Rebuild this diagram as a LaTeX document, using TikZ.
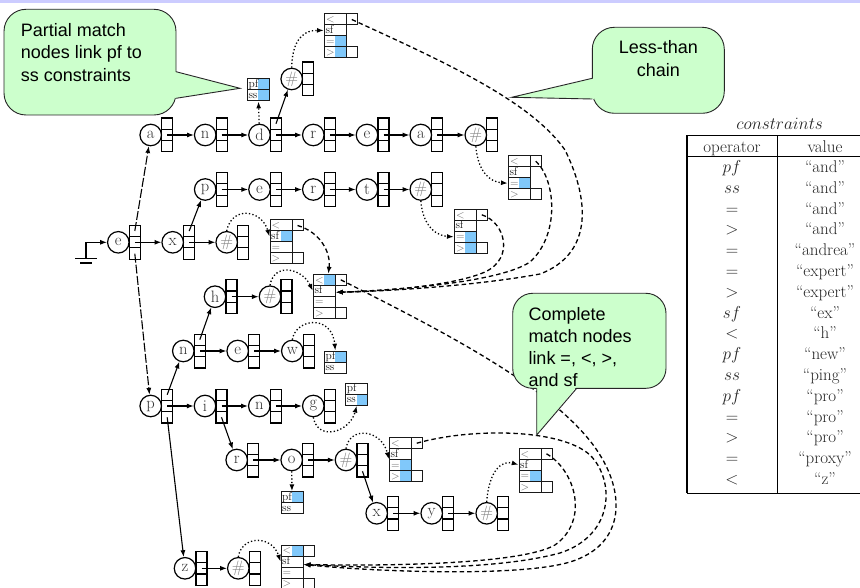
\documentclass[tikz,border=0pt]{standalone}
\usepackage{fontspec}
\newfontfamily\callfont{Liberation Sans}
\usetikzlibrary{arrows.meta}
\definecolor{calloutgreen}{RGB}{204,255,204}
\definecolor{markblue}{RGB}{128,200,250}
\definecolor{topband}{RGB}{204,204,255}

\tikzset{
  tcirc/.style={circle, draw=black, line width=1.2pt, minimum size=21.5pt, inner sep=0pt,
    font=\fontsize{16.5}{16.5}\selectfont, text=black!80},
  tcell/.style={draw=black, line width=1.1pt, minimum width=11pt, minimum height=11.3pt, inner sep=0pt},
  cellbox/.style={draw=black!90, line width=1pt, minimum width=22pt, minimum height=11pt, inner sep=0pt},
  ptrcell/.style={cellbox, minimum width=11pt},
  sym/.style={anchor=base west, inner sep=0pt, font=\fontsize{10.5}{10.5}\selectfont, text=black!60},
  word/.style={anchor=base west, inner sep=0pt, font=\fontsize{11.5}{11.5}\selectfont, text=black!90},
  trieedge/.style={line width=1.1pt, -{Latex[length=6.8pt,width=5pt]}},
  longedge/.style={trieedge, dash pattern=on 9pt off 2.2pt},
  matchlink/.style={line width=1.3pt, dash pattern=on 1.3pt off 2.2pt, -{Latex[length=6.8pt,width=5pt]}},
  chainlink/.style={line width=1.3pt, dash pattern=on 4.5pt off 3pt, -{Latex[length=7pt,width=5pt]}},
  callout/.style={fill=calloutgreen, draw=black!85, line width=0.9pt},
  calloutline/.style={draw=black!85, line width=0.9pt},
  calltext/.style={anchor=base west, inner sep=0pt, font=\callfont\fontsize{18}{22}\selectfont},
  tabtext/.style={anchor=base, inner sep=0pt, font=\fontsize{17}{20}\selectfont, text=black!85},
}

% trie node: circle with its letter and a column of three cells
\newcommand\trienode[4]{%
  \node[tcirc] (#1) at (#2,#3) {#4};
  \node[tcell] (#1-t) at (#2+16.5,#3-11.3) {};
  \node[tcell] (#1-m) at (#2+16.5,#3) {};
  \node[tcell] (#1-b) at (#2+16.5,#3+11.3) {};
}
% constraint record: rows <, sf, =, > ; flags mark the rows in use
\newcommand\conbox[7]{%
  \foreach \row/\flag in {0/#4,1/#5,2/#6,3/#7}{%
    \ifnum\flag=1 \fill[markblue] (#2+11,#3+11*\row) rectangle ++(11,11);\fi}
  \node[cellbox] (#1-lt) at (#2+11,#3+5.5) {};
  \node[cellbox] (#1-sf) at (#2+11,#3+16.5) {};
  \node[cellbox] (#1-eq) at (#2+11,#3+27.5) {};
  \node[cellbox] (#1-gt) at (#2+11,#3+38.5) {};
  \node[ptrcell] (#1-p) at (#2+27.5,#3+5.5) {};
  \node[ptrcell] (#1-q) at (#2+27.5,#3+38.5) {};
  \node[sym] (#1-ltx) at (#2+1.5,#3+8.8) {$<$};
  \node[word] (#1-sfx) at (#2+1,#3+19.7) {sf};
  \node[sym] (#1-eqx) at (#2+1.5,#3+30.5) {$=$};
  \node[sym] (#1-gtx) at (#2+1.5,#3+41.8) {$>$};
}
% prefix / substring record
\newcommand\pfbox[5]{%
  \ifnum#4=1 \fill[markblue] (#2+11,#3) rectangle ++(11,11);\fi
  \ifnum#5=1 \fill[markblue] (#2+11,#3+11) rectangle ++(11,11);\fi
  \node[cellbox] (#1-pf) at (#2+11,#3+5.5) {};
  \node[cellbox] (#1-ss) at (#2+11,#3+16.5) {};
  \node[word] (#1-pfx) at (#2+1,#3+8.3) {pf};
  \node[word] (#1-ssx) at (#2+1,#3+19.5) {ss};
}

\begin{document}
\begin{tikzpicture}[x=1pt,y=-1pt]
\useasboundingbox (0,0) rectangle (860,588);
\fill[white] (0,0) rectangle (860,588);
\fill[topband] (0,0) rectangle (860,3);

% ---- trie ----
\trienode{a1}{150.7}{135}{a}
\trienode{n1}{205.2}{135}{n}
\trienode{d1}{259.5}{135}{d}
\trienode{r1}{313.3}{135}{r}
\trienode{e1}{367}{135}{e}
\trienode{a2}{420.8}{135}{a}
\trienode{f1}{475.8}{135}{{\color{black!50}\#}}
\trienode{f0}{291.7}{79}{{\color{black!50}\#}}
\trienode{p2}{205.2}{189.5}{p}
\trienode{e2}{259.5}{189.5}{e}
\trienode{r2}{313.3}{189.5}{r}
\trienode{t2}{367}{189.5}{t}
\trienode{f2}{420.8}{189.5}{{\color{black!50}\#}}
\trienode{e0}{118.3}{242.3}{e}
\trienode{x0}{172.7}{242.3}{x}
\trienode{fx}{226.7}{242.3}{{\color{black!50}\#}}
\trienode{h3}{215}{296.7}{h}
\trienode{fh}{270}{296.7}{{\color{black!50}\#}}
\trienode{n4}{183.3}{351}{n}
\trienode{e4}{237.7}{351}{e}
\trienode{w4}{292.3}{351}{w}
\trienode{p5}{150.7}{406}{p}
\trienode{i5}{205}{406}{i}
\trienode{n5}{259.3}{406}{n}
\trienode{g5}{313.3}{406}{g}
\trienode{r6}{236.7}{460}{r}
\trienode{o6}{291.7}{460}{o}
\trienode{f6}{346}{460}{{\color{black!50}\#}}
\trienode{x7}{376.7}{513.3}{x}
\trienode{y7}{431.7}{513.3}{y}
\trienode{f7}{486.7}{513.3}{{\color{black!50}\#}}
\trienode{z8}{185}{568.3}{z}
\trienode{f8}{238.3}{568.3}{{\color{black!50}\#}}

% ---- constraint records ----
\conbox{K1}{324.3}{14}{0}{0}{1}{1}
\conbox{K2}{508.3}{155.7}{0}{0}{1}{0}
\conbox{K3}{454.3}{209.3}{0}{0}{1}{1}
\conbox{Kx}{270}{220}{0}{1}{0}{0}
\conbox{Kh}{313.3}{274.3}{1}{0}{0}{0}
\conbox{Kr}{389.3}{437.7}{0}{0}{1}{1}
\conbox{Ky}{519}{448.3}{0}{0}{1}{0}
\conbox{Kz}{281}{545}{1}{0}{0}{0}
\pfbox{Pd}{247.3}{79}{1}{1}
\pfbox{Pw}{324.3}{351}{1}{0}
\pfbox{Pg}{345.7}{383.3}{0}{1}
\pfbox{Po}{281}{491.7}{1}{0}

% ---- ground and root ----
\coordinate (gnd) at (86,258.3);
\draw[line width=1pt] (75,258.3) -- (96.7,258.3);
\draw[line width=2pt] (80,263.3) -- (91.7,263.3);
\draw[trieedge] (gnd) |- (e0);

% ---- trie links ----
\draw[longedge] (e0-t.center) -- (a1);
\draw[trieedge] (e0-m.center) -- (x0);
\draw[longedge] (e0-b.center) -- (p5);
\draw[trieedge] (a1-m.center) -- (n1);
\draw[trieedge] (n1-m.center) -- (d1);
\draw[trieedge] (d1-m.center) -- (r1);
\draw[trieedge] (r1-m.center) -- (e1);
\draw[trieedge] (e1-m.center) -- (a2);
\draw[trieedge] (a2-m.center) -- (f1);
\draw[trieedge] (d1-t.center) -- (f0);
\draw[trieedge] (x0-t.center) -- (p2);
\draw[trieedge] (x0-m.center) -- (fx);
\draw[trieedge] (p2-m.center) -- (e2);
\draw[trieedge] (e2-m.center) -- (r2);
\draw[trieedge] (r2-m.center) -- (t2);
\draw[trieedge] (t2-m.center) -- (f2);
\draw[trieedge] (h3-m.center) -- (fh);
\draw[trieedge] (n4-t.center) -- (h3);
\draw[trieedge] (n4-m.center) -- (e4);
\draw[trieedge] (e4-m.center) -- (w4);
\draw[trieedge] (p5-t.center) -- (n4);
\draw[trieedge] (p5-m.center) -- (i5);
\draw[trieedge] (i5-m.center) -- (n5);
\draw[trieedge] (n5-m.center) -- (g5);
\draw[trieedge] (p5-b.center) -- (z8);
\draw[trieedge] (i5-b.center) -- (r6);
\draw[trieedge] (r6-m.center) -- (o6);
\draw[trieedge] (o6-m.center) -- (f6);
\draw[trieedge] (f6-b.center) -- (x7);
\draw[trieedge] (x7-m.center) -- (y7);
\draw[trieedge] (y7-m.center) -- (f7);
\draw[trieedge] (z8-m.center) -- (f8);

% ---- match links (dotted) ----
\draw[matchlink] (d1) -- (Pd-ss);
\draw[matchlink] (o6) -- (Po-pf);
\draw[matchlink] (f0.north) .. controls (292,45) and (300,30) .. (K1-sf.west);
\draw[matchlink] (f1.south) .. controls (478,172) and (490,182) .. (K2-eq.west);
\draw[matchlink] (f2.south) .. controls (423,228) and (438,236) .. (K3-eq.west);
\draw[matchlink] (fx.north) .. controls (232,205) and (262,210) .. (Kx-sf.west);
\draw[matchlink] (fh.north) .. controls (274,262) and (302,268) .. (Kh-sf.west);
\draw[matchlink] (w4.north) .. controls (296,318) and (332,314) .. (Pw-pf.north);
\draw[matchlink] (g5.south) .. controls (318,442) and (350,432) .. (Pg-ss.south);
\draw[matchlink] (f6.north) .. controls (350,425) and (382,430) .. (Kr-eq.north west);
\draw[matchlink] (f7.north) .. controls (489,470) and (502,460) .. (Ky-sf.west);
\draw[matchlink] (f8.north) .. controls (242,535) and (272,535) .. (Kz-sf.west);

% ---- less-than chain (dashed) ----
\draw[chainlink] (Kx-p.center) .. controls (320,232) and (331,252) .. ([xshift=4pt]Kh-lt.north);
\draw[chainlink] (K1-p.center) .. controls (440,60) and (530,100) .. (565,150)
  .. controls (592,205) and (590,255) .. (540,274)
  .. controls (480,285) and (395,291) .. ([yshift=-1.5pt]Kh-sf.east);
\draw[chainlink] (K2-p.center) .. controls (556,180) and (560,235) .. (530,262)
  .. controls (500,282) and (400,290) .. ([yshift=-1.5pt]Kh-sf.east);
\draw[chainlink] (K3-p.center) .. controls (505,222) and (515,258) .. (485,272)
  .. controls (455,285) and (390,291) .. ([yshift=-1.5pt]Kh-sf.east);
\draw[chainlink] (Kh-p.center) .. controls (440,330) and (560,390) .. (600,455)
  .. controls (625,495) and (625,545) .. (570,562)
  .. controls (520,577) and (380,572) .. ([yshift=-3pt]Kz-sf.east);
\draw[chainlink] (Kr-p.center) .. controls (470,428) and (560,428) .. (590,455)
  .. controls (615,480) and (615,535) .. (560,553)
  .. controls (490,572) and (370,568) .. ([yshift=-3pt]Kz-sf.east);
\draw[chainlink] (Ky-p.center) .. controls (575,470) and (590,520) .. (555,545)
  .. controls (520,565) and (380,566) .. ([yshift=-3pt]Kz-sf.east);

% ---- callouts ----
\filldraw[callout, rounded corners=22pt] (4,9.3) rectangle (176,115);
\fill[calloutgreen] (174.5,71.7) -- (240,88.3) -- (174.5,98.3) -- cycle;
\draw[calloutline] (176,71.7) -- (240,88.3) -- (176,98.3);
\node[calltext] (c1a) at (20.7,36.7) {Partial match};
\node[calltext] (c1b) at (20.7,59) {nodes link pf to};
\node[calltext] (c1c) at (20.7,81.3) {ss constraints};

\filldraw[callout, rounded corners=22pt] (592.3,27.3) rectangle (724.3,113.3);
\fill[calloutgreen] (594,78.3) -- (511.7,97.3) -- (594,99) -- cycle;
\draw[calloutline] (592.3,78.3) -- (511.7,97.3) -- (592.3,99);
\node[calltext, anchor=base] (c2a) at (658.3,53.5) {Less-than};
\node[calltext, anchor=base] (c2b) at (658.3,76.7) {chain};

\filldraw[callout, rounded corners=20pt] (512.7,293.3) rectangle (666,388.3);
\fill[calloutgreen] (536.7,386.6) -- (536.7,435) -- (576.7,386.6) -- cycle;
\draw[calloutline] (536.7,388.3) -- (536.7,435) -- (576.7,388.3);
\node[calltext] (c3a) at (528.3,320) {Complete};
\node[calltext] (c3b) at (528.3,342) {match nodes};
\node[calltext] (c3c) at (528.3,364) {link =, <, >,};
\node[calltext] (c3d) at (528.3,386.5) {and sf};

% ---- constraints table ----
\node[tabtext] (tcap) at (779.7,129.5) {$constraints$};
\draw[line width=1.5pt] (687,135.5) -- (880,135.5);
\draw[line width=1.2pt] (687,156.7) -- (880,156.7);
\draw[line width=1.5pt] (687,493.3) -- (880,493.3);
\draw[line width=1.2pt] (687,135.5) -- (687,493.3);
\draw[line width=1.2pt] (777.5,135.5) -- (777.5,493.3);
\draw[line width=1.2pt] (874,135.5) -- (874,493.3);
\node[tabtext] (hop) at (732,152.3) {operator};
\node[tabtext] (hval) at (825,152.3) {value};
\foreach \op/\val [count=\i from 0] in {$pf$/and,$ss$/and,$=$/and,$>$/and,$=$/andrea,$=$/expert,$>$/expert,$sf$/ex,$<$/h,$pf$/new,$ss$/ping,$pf$/pro,$=$/pro,$>$/pro,$=$/proxy,$<$/z}{
  \node[tabtext] (op\i) at (732,172.5+20.8*\i) {\op};
  \node[tabtext] (val\i) at (825,172.5+20.8*\i) {“\val”};
}
\end{tikzpicture}
\end{document}
